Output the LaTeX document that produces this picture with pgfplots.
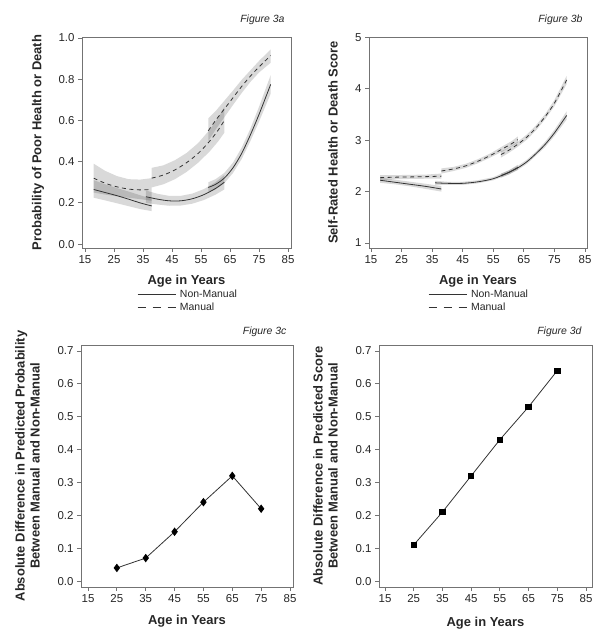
\documentclass[border=0pt]{standalone}
\usepackage{pgfplots}
\pgfplotsset{compat=1.18}
\usepackage{pgfplotstable}
\usepackage{fontspec}
\setmainfont{Liberation Sans}

\definecolor{boxgray}{gray}{0.45}
\definecolor{txt}{gray}{0.15}
\definecolor{linegray}{gray}{0.2}

% panels c and d: absolute differences
\pgfplotstableread{
age diff
25  0.04
35  0.07
45  0.15
55  0.24
65  0.32
75  0.22
}\cDiff
\pgfplotstableread{
age diff
25  0.11
35  0.21
45  0.32
55  0.43
65  0.53
75  0.64
}\dDiff

\pgfplotsset{
  panel/.style={
    scale only axis, anchor=south west,
    axis line style={boxgray, line width=0.8bp},
    tick style={boxgray, line width=0.8bp},
    tick align=outside, tick pos=left, major tick length=4bp,
    xtick={15,25,35,45,55,65,75,85},
    tick label style={font=\fontsize{11.5}{12}\selectfont, color=txt},
    label style={font=\bfseries\fontsize{13}{15}\selectfont, color=txt},
    /pgf/number format/assume math mode=true,
    xlabel={Age in Years},
  },
  onedec/.style={yticklabel style={/pgf/number format/.cd, fixed, fixed zerofill, precision=1}},
  band/.style={fill=black, fill opacity=0.15, draw=none, forget plot},
  nm/.style={linegray, line width=0.8bp, smooth, forget plot},
  mn/.style={linegray, line width=0.8bp, smooth, dash pattern=on 4bp off 3.5bp, forget plot},
  leg/.style={
    legend style={at={(axis description cs:#1,-0.195)}, anchor=north west,
      draw=none, fill=none, inner sep=0pt, row sep=1.5bp,
      font=\fontsize{10.5}{12}\selectfont, text=txt,
      nodes={inner sep=1bp},
      /tikz/every odd column/.append style={column sep=3bp}},
    legend cell align=left,
    legend image code/.code={\draw[##1] (0bp,0bp) -- (38bp,0bp);},
  },
}

\begin{document}
\begin{tikzpicture}
\useasboundingbox (0,0) rectangle (600bp,639bp);

% Figure 3a
\begin{axis}[panel, onedec, leg=0.263,
  at={(82bp,391bp)}, width=209bp, height=211bp,
  xmin=13.97, xmax=86.0, ymin=-0.019, ymax=1.005,
  ytick={0,0.2,0.4,0.6,0.8,1},
  ylabel={Probability of Poor Health or Death},
  ylabel style={at={(axis description cs:-0.211,0.5)}, anchor=center},
  xlabel style={at={(axis description cs:0.5,-0.156)}, anchor=center},
]
  % confidence bands
  \addplot[band] coordinates {(18,0.310)(22,0.290)(26,0.272)(30,0.255)(34,0.237)(38,0.220)
    (38,0.160)(34,0.170)(30,0.184)(26,0.198)(22,0.212)(18,0.225)} -- cycle;
  \addplot[band] coordinates {(18,0.390)(22,0.355)(26,0.330)(30,0.315)(34,0.313)(38,0.320)
    (38,0.210)(34,0.218)(30,0.225)(26,0.232)(22,0.240)(18,0.250)} -- cycle;
  \addplot[band] coordinates {(36,0.260)(40,0.244)(44,0.234)(48,0.234)(52,0.245)(56,0.267)(60,0.300)(63,0.335)
    (63,0.265)(60,0.240)(56,0.214)(52,0.196)(48,0.187)(44,0.186)(40,0.192)(36,0.200)} -- cycle;
  \addplot[band] coordinates {(38,0.370)(42,0.382)(46,0.407)(50,0.442)(54,0.490)(58,0.555)(61,0.615)(63,0.665)
    (63,0.540)(61,0.500)(58,0.450)(54,0.395)(50,0.350)(46,0.315)(42,0.290)(38,0.275)} -- cycle;
  \addplot[band] coordinates {(57.5,0.300)(60,0.315)(63,0.345)(66,0.395)(69,0.468)(72,0.560)(75,0.667)(79,0.820)
    (79,0.730)(75,0.595)(72,0.500)(69,0.413)(66,0.345)(63,0.295)(60,0.265)(57.5,0.250)} -- cycle;
  \addplot[band] coordinates {(57.5,0.610)(60,0.645)(63,0.695)(66,0.745)(69,0.797)(72,0.843)(75,0.889)(79,0.945)
    (79,0.880)(75,0.833)(72,0.787)(69,0.733)(66,0.675)(63,0.615)(60,0.555)(57.5,0.500)} -- cycle;
  % predicted curves
  \addplot[nm] coordinates {(18,0.265)(22,0.250)(26,0.235)(30,0.218)(34,0.200)(38,0.185)};
  \addplot[mn] coordinates {(18,0.320)(22,0.295)(26,0.278)(30,0.267)(34,0.263)(38,0.265)};
  \addplot[nm] coordinates {(36,0.230)(40,0.218)(44,0.210)(48,0.210)(52,0.220)(56,0.240)(60,0.270)(63,0.300)};
  \addplot[mn] coordinates {(38,0.320)(42,0.335)(46,0.360)(50,0.395)(54,0.440)(58,0.500)(61,0.555)(63,0.600)};
  \addplot[nm] coordinates {(57.5,0.275)(60,0.290)(63,0.320)(66,0.370)(69,0.440)(72,0.530)(75,0.630)(79,0.775)};
  \addplot[mn] coordinates {(57.5,0.550)(60,0.600)(63,0.655)(66,0.710)(69,0.765)(72,0.815)(75,0.860)(79,0.915)};
  \addlegendimage{linegray, line width=0.8bp, solid}
  \addlegendentry{Non-Manual}
  \addlegendimage{linegray, line width=0.8bp, dash pattern=on 8bp off 7bp}
  \addlegendentry{Manual}
\end{axis}
\node[anchor=base east, font=\itshape\fontsize{10.5}{12}\selectfont, text=txt] at (288bp,616bp) {Figure 3a};

% Figure 3b
\begin{axis}[panel, leg=0.271,
  at={(369bp,391bp)}, width=218bp, height=211bp,
  xmin=14.35, xmax=85.65, ymin=0.903, ymax=5.005,
  ytick={1,2,3,4,5},
  ylabel={Self-Rated Health or Death Score},
  ylabel style={at={(axis description cs:-0.165,0.5)}, anchor=center},
  xlabel style={at={(axis description cs:0.5,-0.156)}, anchor=center},
]
  % confidence bands
  \addplot[band] coordinates {(18,2.27)(23,2.23)(28,2.19)(33,2.15)(38,2.11)
    (38,2.00)(33,2.05)(28,2.10)(23,2.14)(18,2.17)} -- cycle;
  \addplot[band] coordinates {(18,2.32)(23,2.32)(28,2.325)(33,2.33)(38,2.35)
    (38,2.25)(33,2.25)(28,2.245)(23,2.24)(18,2.22)} -- cycle;
  \addplot[band] coordinates {(36,2.21)(40,2.19)(45,2.19)(50,2.22)(55,2.28)(60,2.41)(63,2.52)
    (63,2.42)(60,2.33)(55,2.22)(50,2.16)(45,2.13)(40,2.13)(36,2.13)} -- cycle;
  \addplot[band] coordinates {(38,2.45)(42,2.48)(46,2.54)(50,2.63)(54,2.74)(58,2.88)(61,2.98)(63,3.07)
    (63,2.95)(61,2.88)(58,2.78)(54,2.66)(50,2.55)(46,2.46)(42,2.40)(38,2.35)} -- cycle;
  \addplot[band] coordinates {(57.5,2.35)(60,2.41)(63,2.50)(66,2.62)(69,2.78)(72,2.97)(75,3.20)(79,3.56)
    (79,3.40)(75,3.08)(72,2.87)(69,2.70)(66,2.54)(63,2.42)(60,2.33)(57.5,2.27)} -- cycle;
  \addplot[band] coordinates {(57.5,2.78)(60,2.85)(63,2.97)(66,3.11)(69,3.29)(72,3.51)(75,3.78)(79,4.25)
    (79,4.09)(75,3.66)(72,3.41)(69,3.19)(66,3.01)(63,2.87)(60,2.75)(57.5,2.66)} -- cycle;
  % predicted curves
  \addplot[nm] coordinates {(18,2.22)(23,2.18)(28,2.14)(33,2.10)(38,2.05)};
  \addplot[mn] coordinates {(18,2.27)(23,2.28)(28,2.285)(33,2.29)(38,2.30)};
  \addplot[nm] coordinates {(36,2.17)(40,2.16)(45,2.16)(50,2.19)(55,2.25)(60,2.37)(63,2.47)};
  \addplot[mn] coordinates {(38,2.40)(42,2.44)(46,2.50)(50,2.59)(54,2.70)(58,2.83)(61,2.93)(63,3.01)};
  \addplot[nm] coordinates {(57.5,2.31)(60,2.37)(63,2.46)(66,2.58)(69,2.74)(72,2.92)(75,3.14)(79,3.48)};
  \addplot[mn] coordinates {(57.5,2.72)(60,2.80)(63,2.92)(66,3.06)(69,3.24)(72,3.46)(75,3.72)(79,4.17)};
  \addlegendimage{linegray, line width=0.8bp, solid}
  \addlegendentry{Non-Manual}
  \addlegendimage{linegray, line width=0.8bp, dash pattern=on 8bp off 7bp}
  \addlegendentry{Manual}
\end{axis}
\node[anchor=base east, font=\itshape\fontsize{10.5}{12}\selectfont, text=txt] at (586bp,616bp) {Figure 3b};

% Figure 3c
\begin{axis}[panel, onedec,
  at={(81bp,52bp)}, width=212bp, height=242bp,
  xmin=12.57, xmax=86.04, ymin=-0.018, ymax=0.718,
  ytick={0,0.1,0.2,0.3,0.4,0.5,0.6,0.7},
  ylabel={Absolute Difference in Predicted Probability\\Between Manual and Non-Manual},
  ylabel style={at={(axis description cs:-0.252,0.5)}, anchor=center, align=center},
  xlabel style={at={(axis description cs:0.5,-0.143)}, anchor=center},
]
  \addplot[linegray, line width=0.8bp, mark=diamond*, mark size=3.6bp,
    mark options={solid, fill=black, draw=black}] table[x=age, y=diff] {\cDiff};
\end{axis}
\node[anchor=base east, font=\itshape\fontsize{10.5}{12}\selectfont, text=txt] at (290bp,304bp) {Figure 3c};

% Figure 3d
\begin{axis}[panel, onedec,
  at={(379bp,52bp)}, width=213bp, height=242bp,
  xmin=12.91, xmax=87.09, ymin=-0.018, ymax=0.718,
  ytick={0,0.1,0.2,0.3,0.4,0.5,0.6,0.7},
  ylabel={Absolute Difference in Predicted Score\\Between Manual and Non-Manual},
  ylabel style={at={(axis description cs:-0.251,0.5)}, anchor=center, align=center},
  xlabel style={at={(axis description cs:0.5,-0.149)}, anchor=center},
]
  \addplot[linegray, line width=0.8bp, mark=square*, mark size=2.7bp,
    mark options={solid, fill=black, draw=black}] table[x=age, y=diff] {\dDiff};
\end{axis}
\node[anchor=base east, font=\itshape\fontsize{10.5}{12}\selectfont, text=txt] at (585bp,304bp) {Figure 3d};
\end{tikzpicture}
\end{document}
